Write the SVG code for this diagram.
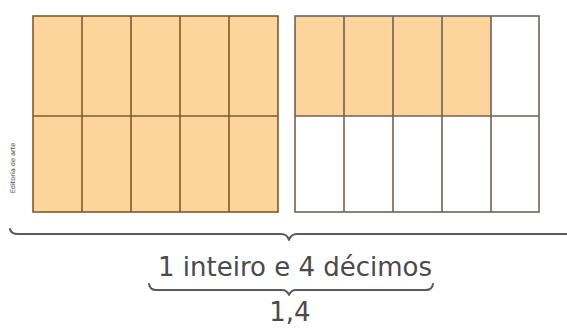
<svg xmlns="http://www.w3.org/2000/svg" width="567" height="329" viewBox="0 0 567 329">
<style>
.fill{fill:#fdd49b}
.e{fill:#ffffff}
.gl{stroke:#7e5b2c;stroke-width:1.6;fill:none}
.gr{stroke:#6f6258;stroke-width:1.6;fill:none}
.br{stroke:#5a5a5a;stroke-width:2;fill:none;stroke-linecap:round;stroke-linejoin:round}
.t{font-family:"DejaVu Sans",Verdana,sans-serif;fill:#4a4a4a}
</style>
<rect width="567" height="329" fill="#ffffff"/>
<g id="inteiro">
<rect class="fill" x="33" y="16" width="245" height="196"/>
<rect class="gl" x="33" y="16" width="245" height="196"/>
<path class="gl" d="M82 16V212M131 16V212M180 16V212M229 16V212M33 116H278"/>
</g>
<g id="decimos">
<rect class="e" x="295" y="16" width="244" height="196"/>
<rect class="fill" x="295" y="16" width="196" height="100"/>
<rect class="gr" x="295" y="16" width="244" height="196"/>
<path class="gr" d="M344 16V212M393 16V212M442 16V212M491 16V212M295 116H539"/>
</g>
<g id="connectors">
<path class="br" d="M10 229Q11 234 18 234H281Q287 234 289 240Q291 234 297 234H567"/>
<path class="br" d="M149 284Q150 290 156 290H282Q287 290 289 295Q291 290 296 290H426Q432 290 433 284"/>
</g>
<g id="labels">
<text class="t" x="295" y="276" font-size="26" text-anchor="middle">1 inteiro e 4 décimos</text>
<text class="t" x="290" y="321" font-size="26" text-anchor="middle">1,4</text>
<text class="t" x="0" y="0" font-size="6.5" fill="#777" text-anchor="middle" transform="translate(15 168) rotate(-90)">Editoria de arte</text>
</g>
</svg>
